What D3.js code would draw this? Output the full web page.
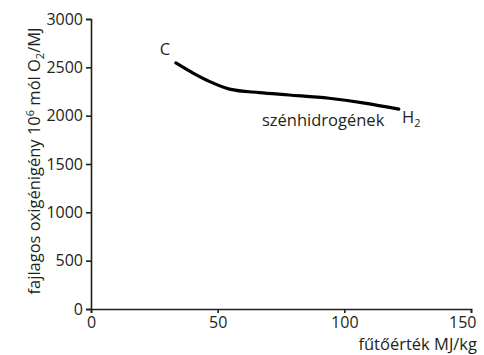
<!DOCTYPE html>
<html>
<head>
<meta charset="utf-8">
<script src="https://cdn.jsdelivr.net/npm/d3@7"></script>
<style>
  body { margin: 0; background: #fff; }
  svg text { font-family: "Open Sans", sans-serif; fill: #231f20; }
  .axis path, .axis line { stroke: #231f20; stroke-width: 1.6; }
</style>
</head>
<body>
<div id="chart"></div>
<script>
// fűtőérték (MJ/kg) and fajlagos oxigénigény
const fuelValue = [33.5, 40.3, 46.9, 54.7, 66.5, 78.3, 94.0, 108, 121.5];
const oxygenDemand = [2545, 2440, 2352, 2275, 2238, 2214, 2180, 2130, 2067];
const xTicks = [0, 50, 100, 150];
const yTicks = [0, 500, 1000, 1500, 2000, 2500, 3000];

const width = 484, height = 355;
const margin = { top: 19, right: 13, bottom: 46, left: 91 };
const fs = '16.5px', fsTick = '16px', fsSub = '11px';

const svg = d3.select('#chart').append('svg')
  .attr('width', width)
  .attr('height', height);

const x = d3.scaleLinear().domain([0, 150]).range([margin.left, width - margin.right]);
const y = d3.scaleLinear().domain([0, 3000]).range([height - margin.bottom, margin.top]);

const xAxis = svg.append('g')
  .attr('class', 'axis')
  .attr('transform', `translate(0, ${height - margin.bottom})`)
  .call(d3.axisBottom(x).tickValues(xTicks).tickFormat(d3.format('d'))
    .tickSizeOuter(0).tickSize(4).tickPadding(4));

// last label sits flush against the right edge, like in the original
xAxis.selectAll('.tick:last-of-type text')
  .attr('text-anchor', 'end')
  .attr('x', 5);

svg.append('g')
  .attr('class', 'axis')
  .attr('transform', `translate(${margin.left}, 0)`)
  .call(d3.axisLeft(y).tickValues(yTicks).tickFormat(d3.format('d'))
    .tickSizeOuter(0).tickSize(5).tickPadding(3));

svg.selectAll('.axis text').style('font-size', fsTick).attr('fill', '#231f20');

// curve
const line = d3.line()
  .x((d, i) => x(fuelValue[i]))
  .y(d => y(d))
  .curve(d3.curveMonotoneX);

svg.append('path')
  .datum(oxygenDemand)
  .attr('d', line)
  .attr('fill', 'none')
  .attr('stroke', '#000')
  .attr('stroke-width', 3.2)
  .attr('stroke-linecap', 'round');

// labels
svg.append('text')
  .attr('x', 165).attr('y', 55)
  .attr('text-anchor', 'middle')
  .style('font-size', fs)
  .text('C');

svg.append('text')
  .attr('x', 262).attr('y', 126)
  .style('font-size', fs)
  .text('szénhidrogének');

const h2 = svg.append('text')
  .attr('x', 402).attr('y', 123)
  .style('font-size', fs);
h2.append('tspan').text('H');
h2.append('tspan').attr('dy', 4).style('font-size', fsSub).text('2');

svg.append('text')
  .attr('x', 477).attr('y', 350)
  .attr('text-anchor', 'end')
  .style('font-size', fs)
  .text('fűtőérték MJ/kg');

const yl = svg.append('text')
  .attr('transform', 'translate(40, 161) rotate(-90)')
  .attr('text-anchor', 'middle')
  .style('font-size', fs);
yl.append('tspan').text('fajlagos oxigénigény 10');
yl.append('tspan').attr('dy', -6).style('font-size', fsSub).text('6');
yl.append('tspan').attr('dy', 6).text(' mól O');
yl.append('tspan').attr('dy', 4).style('font-size', fsSub).text('2');
yl.append('tspan').attr('dy', -4).text('/MJ');
</script>
</body>
</html>
